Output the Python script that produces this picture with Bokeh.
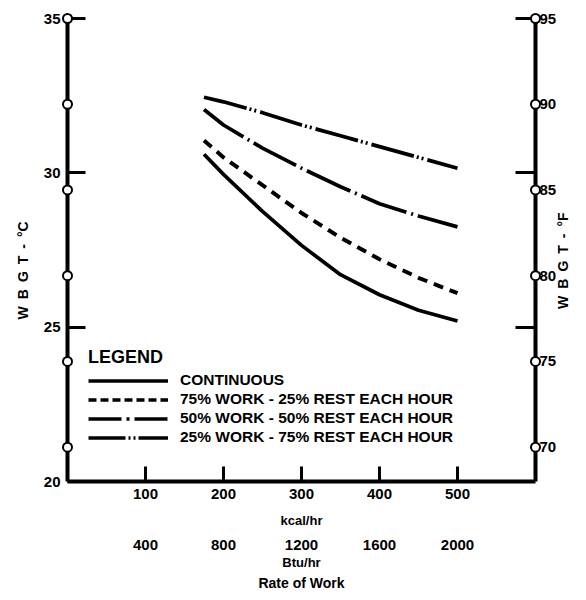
import math
import numpy as np
from bokeh.plotting import figure
from bokeh.models import (LinearAxis, FixedTicker, Range1d, Legend, LegendItem,
                          Title, CustomJSTickFormatter)
from bokeh.core.properties import value
from bokeh.embed import file_html
from bokeh.resources import INLINE

# ---- data ----
x_min, x_max = 0, 600            # kcal/hr
y_min, y_max = 20, 35            # WBGT degC
kcal_ticks = [100, 200, 300, 400, 500]
btu_labels = ["400", "800", "1200", "1600", "2000"]
c_ticks = [20, 25, 30, 35]
c_minor_right = [25, 30, 35]
f_ticks = [70, 75, 80, 85, 90, 95]

work_kcal = [175, 200, 250, 300, 350, 400, 450, 500]
continuous = [30.6, 29.95, 28.75, 27.65, 26.7, 26.05, 25.55, 25.2]
work75 = [31.05, 30.5, 29.6, 28.7, 27.9, 27.2, 26.6, 26.1]
work50 = [32.05, 31.55, 30.8, 30.15, 29.55, 29.0, 28.6, 28.25]
work25 = [32.45, 32.3, 31.95, 31.55, 31.2, 30.85, 30.5, 30.15]

labels = ["CONTINUOUS",
          "75% WORK - 25% REST EACH HOUR",
          "50% WORK - 50% REST EACH HOUR",
          "25% WORK - 75% REST EACH HOUR"]

SP = "\u2002"  # wide letter spacing as in the original
left_title = SP.join(["W", "B", "G", "T", "-", "°C"])
right_title = SP.join(["W", "B", "G", "T", "-", "°F"])

FONT = "Liberation Sans"
f_in_c = [(f - 32) * 5 / 9 for f in f_ticks]

p = figure(width=580, height=600, x_range=Range1d(x_min, x_max),
           y_range=Range1d(y_min, y_max), output_backend="svg",
           toolbar_location=None, x_axis_type=None, y_axis_type=None,
           min_border_left=67, min_border_right=45, min_border_top=18,
           min_border_bottom=119)
p.grid.visible = False
p.outline_line_color = None
p.background_fill_color = "white"


def style_axis(ax, size="15px"):
    ax.axis_line_color = "black"
    ax.axis_line_width = 4
    ax.major_tick_line_color = "black"
    ax.major_tick_line_width = 3
    ax.minor_tick_line_color = "black"
    ax.minor_tick_line_width = 3
    ax.major_label_text_font = FONT
    ax.major_label_text_font_style = "bold"
    ax.major_label_text_font_size = size
    ax.major_label_text_color = "black"
    ax.axis_label_text_font = FONT
    ax.axis_label_text_font_style = "bold"
    ax.axis_label_text_font_size = "13px"
    ax.axis_label_text_color = "black"


# left axis (deg C)
left = LinearAxis(ticker=FixedTicker(ticks=c_ticks),
                  major_tick_in=18, major_tick_out=0, minor_tick_in=0, minor_tick_out=0,
                  major_label_standoff=7)
style_axis(left)
p.add_layout(left, "left")

# right axis (deg F labels, deg C ticks as minor)
right = LinearAxis(ticker=FixedTicker(ticks=f_in_c, minor_ticks=c_minor_right),
                   formatter=CustomJSTickFormatter(code="return Math.round(tick*9/5+32).toString();"),
                   major_tick_in=0, major_tick_out=0, minor_tick_in=20, minor_tick_out=0,
                   major_label_standoff=4)
style_axis(right)
p.add_layout(right, "right")

# axis titles, both reading bottom-to-top (drawn as overlay text beside the axes)
title_y = [y_min + (y_max - y_min) * 0.456, y_min + (y_max - y_min) * 0.477]
p.text(x=[x_min, x_max], y=title_y, text=[left_title, right_title],
       x_offset=[-45, 27], angle=math.pi / 2, text_align="center",
       text_baseline="middle", text_font=value(FONT), text_font_style="bold",
       text_font_size="14px", text_color="black", level="overlay")

# bottom kcal axis
bottom = LinearAxis(ticker=FixedTicker(ticks=kcal_ticks), axis_label="kcal/hr",
                    major_tick_in=15, major_tick_out=0, minor_tick_in=0, minor_tick_out=0,
                    major_label_standoff=7, axis_label_standoff=11)
style_axis(bottom)
p.add_layout(bottom, "below")

# bottom Btu axis
btu = LinearAxis(ticker=FixedTicker(ticks=kcal_ticks),
                 major_label_overrides={k: b for k, b in zip(kcal_ticks, btu_labels)},
                 axis_label="Btu/hr",
                 major_tick_in=0, major_tick_out=0, minor_tick_in=0, minor_tick_out=0,
                 major_label_standoff=9, axis_label_standoff=2)
style_axis(btu)
btu.axis_line_color = None
p.add_layout(btu, "below")

p.add_layout(Title(text="Rate of Work", align="center", text_font=FONT,
                   text_font_style="bold", text_font_size="14px",
                   text_color="black", standoff=0), "below")

# curves
r1 = p.line(work_kcal, continuous, line_color="black", line_width=3.7)
r2 = p.line(work_kcal, work75, line_color="black", line_width=4, line_dash="10 7")
r3 = p.line(work_kcal, work50, line_color="black", line_width=3.7, line_dash="48 5 2 5")
r4 = p.line(work_kcal, work25, line_color="black", line_width=3.7, line_dash="44 3 2 3 2 4")

# legend-only renderers (legend dash style), no visible data
nan = np.array([np.nan])
l1 = p.line(nan, nan, line_color="black", line_width=3.5)
l2 = p.line(nan, nan, line_color="black", line_width=3.5, line_dash="8 4")
l3 = p.line(nan, nan, line_color="black", line_width=3.5, line_dash="33 5 3 5")
l4 = p.line(nan, nan, line_color="black", line_width=3.5, line_dash="37 3 2 3 2 3")

legend = Legend(items=[LegendItem(label=lab, renderers=[r]) for lab, r in
                       zip(labels, [l1, l2, l3, l4])],
                location=(21, 35), title="LEGEND", padding=0, margin=0,
                spacing=1, glyph_width=80, glyph_height=15, label_height=15,
                label_standoff=12, border_line_color=None,
                background_fill_alpha=0)
legend.title_text_font = FONT
legend.title_text_font_style = "bold"
legend.title_text_font_size = "18px"
legend.title_text_color = "black"
legend.title_standoff = 3
legend.label_text_font = FONT
legend.label_text_font_style = "bold"
legend.label_text_font_size = "15.5px"
legend.label_text_color = "black"
p.add_layout(legend)

# deg F markers on both vertical axes
p.scatter([x_min] * len(f_in_c), f_in_c, size=9, marker="circle",
          fill_color="white", line_color="black", line_width=2, level="overlay")
p.scatter([x_max] * len(f_in_c), f_in_c, size=9, marker="circle",
          fill_color="white", line_color="black", line_width=2, level="overlay")

open("out.html", "w").write(file_html(p, INLINE))
